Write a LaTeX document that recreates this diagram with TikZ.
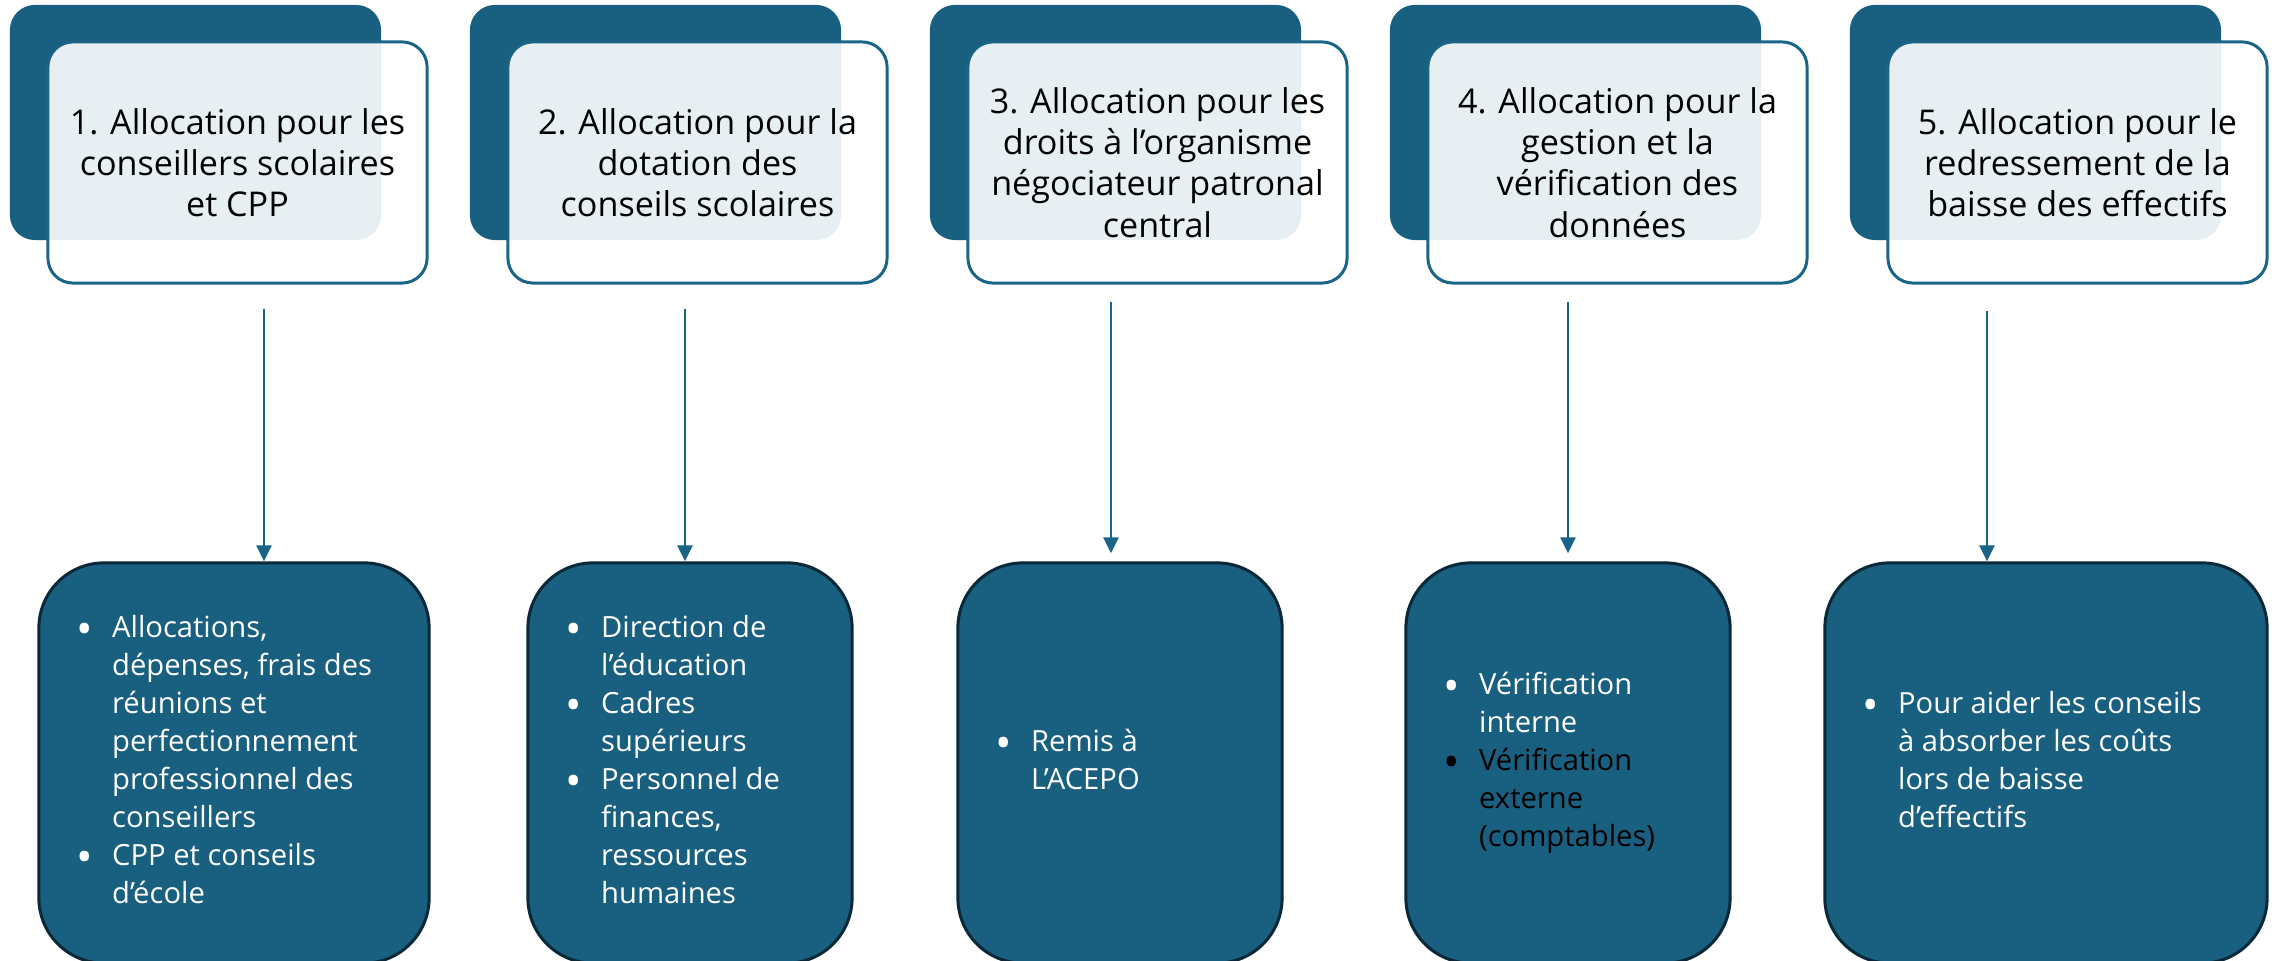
\documentclass[tikz,border=0pt]{standalone}
\usepackage{fontspec}
\setmainfont{Open Sans}
\usetikzlibrary{arrows.meta}

\newcommand{\blist}[1]{\begin{tabular}{@{}p{0.36cm}@{}l@{}}#1\end{tabular}}
\newcommand{\bul}{\leavevmode\raisebox{-0.45ex}{\scalebox{1.5}{\textbullet}}}

\begin{document}
\begin{tikzpicture}[x=0.01cm,y=-0.01cm]
%% Colors
\definecolor{cardBlue}{RGB}{24,95,128}
\definecolor{lineBlue}{RGB}{26,100,135}
\definecolor{navy}{RGB}{10,40,56}
%% Styles
\tikzset{
backcard/.style={rounded corners=0.25cm, fill=cardBlue, minimum width=3.71cm, minimum height=2.35cm, inner sep=0pt},
frontcard/.style={rounded corners=0.25cm, draw=lineBlue, line width=0.85pt, fill=white, fill opacity=0.9, text opacity=1,
  minimum width=3.79cm, minimum height=2.41cm, inner sep=0pt, align=center, font=\fontsize{9.7pt}{11.7pt}\selectfont},
infobox/.style={rounded corners=0.65cm, draw=navy, line width=0.85pt, fill=cardBlue, minimum width=#1, minimum height=4cm, inner sep=0pt},
infotext/.style={anchor=west, inner sep=0pt, text=white, font=\fontsize{8.3pt}{10.8pt}\selectfont},
flow/.style={draw=lineBlue, line width=0.75pt, -{Triangle[length=0.16cm,width=0.15cm]}}
}
\useasboundingbox (0,0) rectangle (2274,961);
\clip (0,0) rectangle (2274,961);

%% Header cards
\foreach \i/\txt in {1/{1. Allocation pour les\\conseillers scolaires\\et CPP},
2/{2. Allocation pour la\\dotation des\\conseils scolaires},
3/{3. Allocation pour les\\droits à l’organisme\\négociateur patronal\\central},
4/{4. Allocation pour la\\gestion et la\\vérification des\\données},
5/{5. Allocation pour le\\redressement de la\\baisse des effectifs}}{
\pgfmathsetmacro{\dx}{10+460*(\i-1)}
\node[backcard] (d\i) at (\dx+185.5,122.5) {};
\node[frontcard] (h\i) at (\dx+227.5,162.5) {\txt};
}

%% Detail boxes
\node[infobox=3.9cm] (b1) at (234,763) {};
\node[infobox=3.24cm] (b2) at (690,763) {};
\node[infobox=3.24cm] (b3) at (1120,763) {};
\node[infobox=3.24cm] (b4) at (1568,763) {};
\node[infobox=4.42cm] (b5) at (2046,763) {};

\node[infotext] (t1) at ([xshift=0.38cm]b1.west) {\blist{\bul & Allocations,\\ & dépenses, frais des\\ & réunions et\\ & perfectionnement\\ & professionnel des\\ & conseillers\\ \bul & CPP et conseils\\ & d’école}};
\node[infotext] (t2) at ([xshift=0.38cm]b2.west) {\blist{\bul & Direction de\\ & l’éducation\\ \bul & Cadres\\ & supérieurs\\ \bul & Personnel de\\ & finances,\\ & ressources\\ & humaines}};
\node[infotext] (t3) at ([xshift=0.38cm]b3.west) {\blist{\bul & Remis à\\ & L’ACEPO}};
\node[infotext] (t4) at ([xshift=0.38cm]b4.west) {\blist{\bul & Vérification\\ & interne\\ \textcolor{black}{\bul} & \textcolor{black}{Vérification}\\ & \textcolor{black}{externe}\\ & \textcolor{black}{(comptables)}}};
\node[infotext] (t5) at ([xshift=0.38cm]b5.west) {\blist{\bul & Pour aider les conseils\\ & à absorber les coûts\\ & lors de baisse\\ & d’effectifs}};

%% Arrows
\coordinate (a1) at (264,309);
\coordinate (a2) at (685,309);
\coordinate (a3) at (1111,302);
\coordinate (a4) at (1568,302);
\coordinate (a5) at (1987,311);
\path[flow] (a1) -- (a1 |- b1.north);
\path[flow] (a2) -- (a2 |- b2.north);
\path[flow, shorten >=0.08cm] (a3) -- (a3 |- b3.north);
\path[flow, shorten >=0.08cm] (a4) -- (a4 |- b4.north);
\path[flow] (a5) -- (a5 |- b5.north);

\end{tikzpicture}
\end{document}
